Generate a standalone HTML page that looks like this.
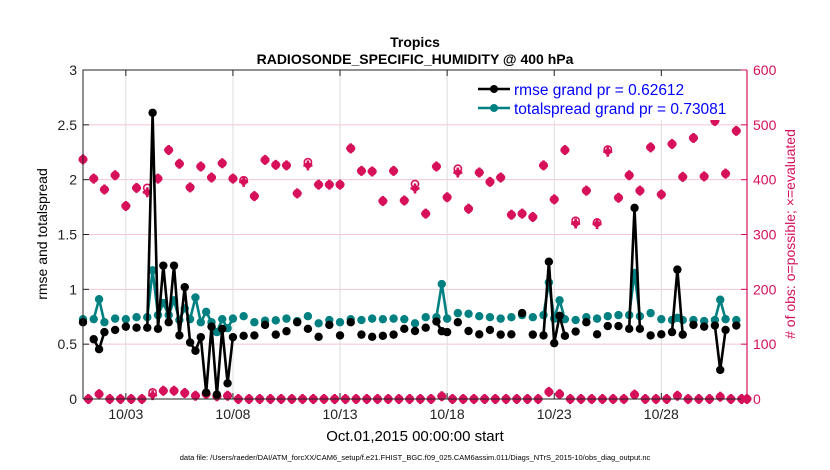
<!DOCTYPE html>
<html><head><meta charset="utf-8"><style>
html,body{margin:0;padding:0;background:#fff;}
svg{display:block;font-family:"Liberation Sans",Arial,sans-serif;}
</style></head><body>
<svg id="chart" width="830" height="470" viewBox="0 0 830 470" xmlns="http://www.w3.org/2000/svg">
<rect x="0" y="0" width="830" height="470" fill="#fff"/>
<g id="grid"></g>
<g id="obs"></g>
<g id="series"></g>
<g id="axes"></g>
<text x="415" y="47" text-anchor="middle" font-size="14" font-weight="bold" fill="#000">Tropics</text>
<text x="415" y="64" text-anchor="middle" font-size="14" font-weight="bold" fill="#000">RADIOSONDE_SPECIFIC_HUMIDITY @ 400 hPa</text>
<text transform="translate(47,234) rotate(-90)" text-anchor="middle" font-size="14" fill="#000">rmse and totalspread</text>
<text transform="translate(795,234) rotate(-90)" text-anchor="middle" font-size="14" fill="#d6105a"># of obs: o=possible; ×=evaluated</text>
<text x="415" y="441" text-anchor="middle" font-size="15" fill="#000">Oct.01,2015 00:00:00 start</text>
<text x="415" y="460" text-anchor="middle" font-size="7.5" fill="#000">data file: /Users/raeder/DAI/ATM_forcXX/CAM6_setup/f.e21.FHIST_BGC.f09_025.CAM6assim.011/Diags_NTrS_2015-10/obs_diag_output.nc</text>
<g>
<rect x="470" y="76" width="272" height="44" fill="#fff"/>
<g>
<line x1="478" y1="89" x2="510" y2="89" stroke="#000" stroke-width="2.5"/>
<circle cx="494" cy="89" r="4" fill="#000"/>
<text x="514" y="95" font-size="15.5" fill="#0000ff">rmse grand pr = 0.62612</text>
</g>
<g>
<line x1="478" y1="108" x2="510" y2="108" stroke="#008080" stroke-width="2.5"/>
<circle cx="494" cy="108" r="4" fill="#008080"/>
<text x="514" y="114" font-size="15.5" fill="#0000ff">totalspread grand pr = 0.73081</text>
</g>
</g>
</svg>
<script>
// ---- data ----
const tickDays = [3, 8, 13, 18, 23, 28];
const tickLabels = ["10/03", "10/08", "10/13", "10/18", "10/23", "10/28"];
const leftTicks = [0, 0.5, 1, 1.5, 2, 2.5, 3];
const leftTickLabels = ["0", "0.5", "1", "1.5", "2", "2.5", "3"];
const rightTicks = [0, 100, 200, 300, 400, 500, 600];
// metric slots (6-hour bins, slot 0 = Oct 1 00Z)
const metricSlots = [0,2,3,4,6,8,10,12,13,14,15,16,17,18,19,20,21,22,23,24,25,26,27,28,30,32,34,36,38,40,42,44,46,48,50,52,54,56,58,60,62,64,66,67,68,70,72,74,76,78,80,82,84,86,87,88,89,90,92,94,96,98,100,102,103,104,106,108,110,111,112,114,116,118,119,120,122];
const rmse = [0.70,0.545,0.454,0.61,0.63,0.66,0.65,0.65,2.61,0.64,1.216,0.70,1.216,0.58,1.02,0.515,0.44,0.564,0.058,0.66,0.04,0.64,0.143,0.564,0.576,0.58,0.676,0.587,0.618,0.70,0.64,0.567,0.676,0.58,0.70,0.587,0.567,0.576,0.587,0.64,0.62,0.65,0.706,0.618,0.61,0.70,0.62,0.59,0.63,0.587,0.59,0.783,0.587,0.58,1.252,0.509,0.759,0.576,0.615,0.70,0.59,0.665,0.665,0.64,1.743,0.64,0.58,0.59,0.61,1.18,0.587,0.676,0.66,0.67,0.265,0.63,0.67];
const spread = [0.728,0.728,0.91,0.70,0.733,0.728,0.746,0.746,1.173,0.765,0.875,0.765,0.90,0.72,0.826,0.728,0.926,0.70,0.795,0.70,0.61,0.728,0.646,0.733,0.755,0.70,0.714,0.717,0.733,0.71,0.755,0.69,0.72,0.70,0.728,0.72,0.733,0.728,0.733,0.728,0.69,0.746,0.746,1.048,0.733,0.783,0.777,0.755,0.746,0.733,0.746,0.765,0.746,0.765,1.063,0.733,0.90,0.728,0.72,0.746,0.733,0.755,0.765,0.765,1.149,0.755,0.783,0.728,0.72,0.74,0.72,0.72,0.71,0.72,0.905,0.728,0.72];
// obs counts for every slot 0..124
const obsEvaluated = [437,0,402,9,382,0,408,0,352,0,385,0,377,7,402,15,454,15,429,11,386,6,424,9,404,5,430,6,402,0,396,0,370,0,436,0,427,0,426,0,375,0,426,0,391,0,391,0,391,0,457,0,416,0,415,0,361,0,416,0,362,0,384,0,338,0,424,5,368,0,413,0,347,0,413,0,396,0,404,0,336,0,338,0,332,0,426,13,364,9,454,0,320,0,380,0,319,0,451,0,367,0,408,8,380,0,459,0,373,0,465,6,405,0,476,0,406,0,507,4,411,0,489,0,0];
const obsPossible = [437,0,402,9,382,0,408,0,352,0,385,0,385,12,402,15,454,15,429,11,386,6,424,9,404,5,430,6,402,0,399,0,370,0,436,0,427,0,426,0,375,0,432,0,391,0,391,0,391,0,457,0,416,0,415,0,361,0,416,0,362,0,392,0,338,0,424,5,368,0,420,0,347,0,413,0,396,0,404,0,336,0,338,0,332,0,426,13,364,9,454,0,325,0,380,0,322,0,455,0,367,0,408,8,380,0,459,0,373,0,465,6,405,0,476,0,406,0,507,4,411,0,489,0,0];

// ---- axes functions ----
const X0 = 83, X1 = 747, Y0 = 399, Y1 = 70;
const NS = "http://www.w3.org/2000/svg";
function xDay(d) { return X0 + (d - 1) / 31 * (X1 - X0); }
function xSlot(k) { return xDay(1 + k / 4); }
function yL(v) { return Y0 - v / 3 * (Y0 - Y1); }
function yR(v) { return Y0 - v / 600 * (Y0 - Y1); }
function mk(tag, attrs, parent) {
  const el = document.createElementNS(NS, tag);
  for (const k in attrs) el.setAttribute(k, attrs[k]);
  parent.appendChild(el);
  return el;
}
const grid = document.getElementById('grid');
const axes = document.getElementById('axes');
const obs = document.getElementById('obs');
const series = document.getElementById('series');
const PINK = '#d6105a';

// grid
rightTicks.forEach(function (t) {
  if (t === 0 || t === 600) return;
  const l = mk('line', {x1: X0, x2: X1, y1: yR(t), y2: yR(t), stroke: '#f2c4d4', 'stroke-width': 1}, grid);
  
  
});
tickDays.forEach(function (d) {
  const l = mk('line', {x1: xDay(d), x2: xDay(d), y1: Y1, y2: Y0, stroke: '#dcdcdc', 'stroke-width': 1}, grid);
  
  
});

// obs markers
function drawObs(k) {
  const x = xSlot(k);
  const yp = yR(obsPossible[k]);
  const c = mk('circle', {cx: x, cy: yp, r: 3.6, fill: '#fff', stroke: PINK, 'stroke-width': 1.6}, obs);
  
  
  const y = yR(obsEvaluated[k]);
  const g = mk('g', {}, obs);
  
  
  mk('circle', {cx: x, cy: y, r: 3.3, fill: PINK}, g);
  mk('path', {d: 'M' + (x - 4.5) + ' ' + y + 'H' + (x + 4.5) + 'M' + x + ' ' + (y - 5) + 'V' + (y + 5), stroke: PINK, 'stroke-width': 2.6}, g);
}
for (let k = 0; k < obsEvaluated.length; k++) drawObs(k);

// metric series
function drawSeries(vals, color, name) {
  let d = '';
  for (let i = 0; i < metricSlots.length; i++) {
    const x = xSlot(metricSlots[i]), y = yL(vals[i]);
    const brk = i === 0 || metricSlots[i] - metricSlots[i - 1] > 1;
    d += (brk ? 'M' : 'L') + x.toFixed(1) + ' ' + y.toFixed(1);
  }
  const p = mk('path', {d: d, fill: 'none', stroke: color, 'stroke-width': 2.6, 'stroke-linejoin': 'round'}, series);
  
  
  for (let i = 0; i < metricSlots.length; i++) {
    const c = mk('circle', {cx: xSlot(metricSlots[i]), cy: yL(vals[i]), r: 4.2, fill: color}, series);
    
    
  }
}
drawSeries(spread, '#008080', 'totalspread');
drawSeries(rmse, '#000000', 'rmse');

// axes
const frame = mk('path', {d: 'M' + X0 + ' ' + Y0 + 'V' + Y1 + 'H' + X1, fill: 'none', stroke: '#222', 'stroke-width': 1}, axes);


const bottom = mk('line', {x1: X0, x2: X1, y1: Y0, y2: Y0, stroke: '#222', 'stroke-width': 1}, axes);


const rax = mk('line', {x1: X1, x2: X1, y1: Y1, y2: Y0, stroke: PINK, 'stroke-width': 1.2}, axes);


leftTicks.forEach(function (t, i) {
  mk('line', {x1: X0, x2: X0 + 6, y1: yL(t), y2: yL(t), stroke: '#222'}, axes);
  const tx = mk('text', {x: X0 - 6, y: yL(t) + 5, 'text-anchor': 'end', 'font-size': 14, fill: '#222'}, axes);
  tx.textContent = leftTickLabels[i];
  
  
});
rightTicks.forEach(function (t) {
  mk('line', {x1: X1 - 6, x2: X1, y1: yR(t), y2: yR(t), stroke: PINK}, axes);
  const tx = mk('text', {x: X1 + 6, y: yR(t) + 5, 'text-anchor': 'start', 'font-size': 14, fill: PINK}, axes);
  tx.textContent = String(t);
  
  
});
tickDays.forEach(function (d, i) {
  mk('line', {x1: xDay(d), x2: xDay(d), y1: Y0, y2: Y0 - 6, stroke: '#222'}, axes);
  mk('line', {x1: xDay(d), x2: xDay(d), y1: Y1, y2: Y1 + 6, stroke: '#222'}, axes);
  const tx = mk('text', {x: xDay(d), y: Y0 + 20, 'text-anchor': 'middle', 'font-size': 14, fill: '#222'}, axes);
  tx.textContent = tickLabels[i];
  
  
});
</script>
</body></html>
